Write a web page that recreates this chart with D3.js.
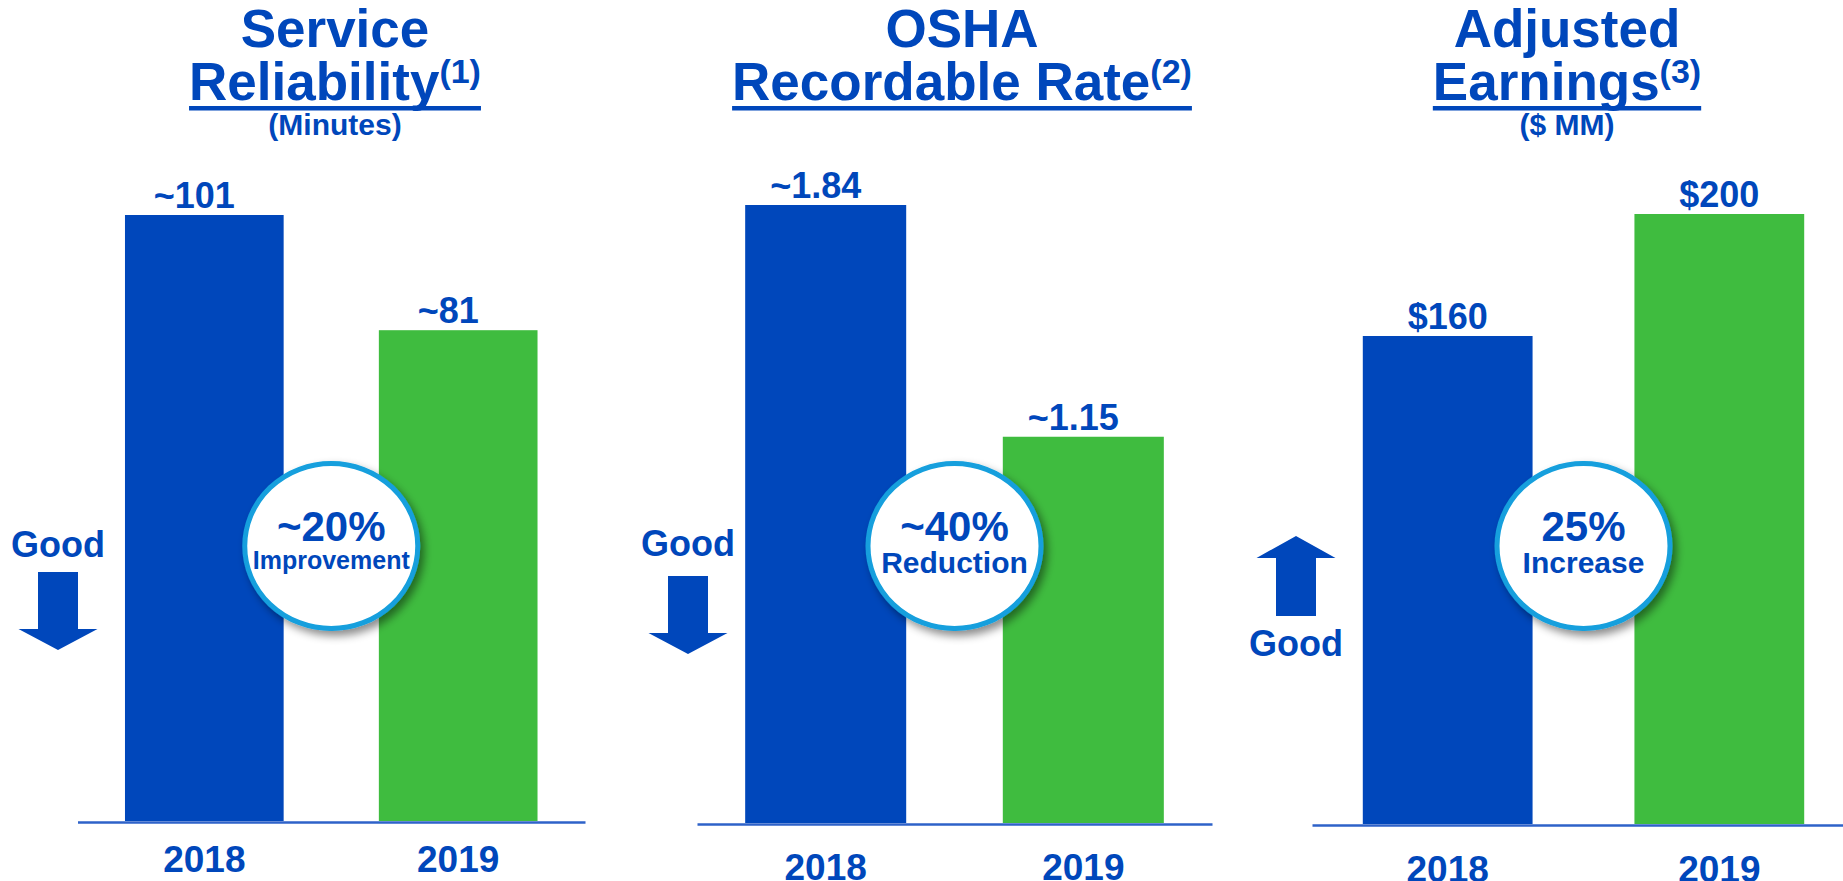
<!DOCTYPE html>
<html>
<head>
<meta charset="utf-8">
<title>2018 vs 2019 scorecard</title>
<script src="https://cdn.jsdelivr.net/npm/d3@7"></script>
<style>
  body { margin: 0; background: #fff; }
  svg text { font-family: "Liberation Sans", Arial, sans-serif; font-weight: bold; fill: #0047bb; }
</style>
</head>
<body>
<svg id="chart"></svg>
<script>
    // chart data
    const years = ["2018", "2019"];
    const titleTop = ["Service", "OSHA", "Adjusted"];
    const titleBottom = ["Reliability", "Recordable Rate", "Earnings"];
    const footnotes = ["(1)", "(2)", "(3)"];
    const units = ["(Minutes)", "", "($ MM)"];
    const reliabilityMinutes = [101, 81.8];
    const oshaRate = [1.84, 1.15];
    const adjustedEarnings = [160, 200];
    const valueLabels = [["~101", "~81"], ["~1.84", "~1.15"], ["$160", "$200"]];
    const changePct = ["~20%", "~40%", "25%"];
    const changeWord = ["Improvement", "Reduction", "Increase"];
    const goodDirection = ["down", "down", "up"];
    const seriesValues = [reliabilityMinutes, oshaRate, adjustedEarnings];

    const WIDTH = 1843, HEIGHT = 881;
    const blue = "#0047bb", green = "#3fbc3f", ring = "#139fdd", axisBlue = "#2e62c9";
    const barColors = [blue, green];

    // layout of each panel
    const layout = [
        { x0: 77.5, x1: 585, base: 821, top: 215, titleX: 335, yearY: 872, goodX: 58, goodY: 557, arrowY: 572 },
        { x0: 697, x1: 1212, base: 823, top: 205, titleX: 962, yearY: 880, goodX: 688, goodY: 556, arrowY: 576 },
        { x0: 1312, x1: 1855, base: 824, top: 214, titleX: 1567, yearY: 882, goodX: 1296, goodY: 656, arrowY: 536 }
    ];

    let svg = d3.select("#chart").attr("width", WIDTH).attr("height", HEIGHT);

    let defs = svg.append("defs");
    defs.append("filter").attr("id", "shadow")
        .attr("x", "-30%").attr("y", "-30%").attr("width", "160%").attr("height", "160%")
        .append("feDropShadow")
        .attr("dx", 4).attr("dy", 5).attr("stdDeviation", 4)
        .attr("flood-color", "#000").attr("flood-opacity", 0.45);

    function drawPanel(i) {
        let L = layout[i], values = seriesValues[i];
        let g = svg.append("g").attr("class", "panel");

        let xScale = d3.scaleBand().domain(years).range([L.x0, L.x1])
            .paddingInner(0.375).paddingOuter(0.187);
        let yScale = d3.scaleLinear().domain([0, d3.max(values)]).range([L.base, L.top]);

        let data = years.map((y, k) => ({ year: y, value: values[k], label: valueLabels[i][k], color: barColors[k] }));

        // bars
        g.selectAll(".bar").data(data).enter().append("rect")
            .attr("class", "bar")
            .attr("x", d => xScale(d.year))
            .attr("width", xScale.bandwidth())
            .attr("y", d => yScale(d.value))
            .attr("height", d => L.base - yScale(d.value))
            .attr("fill", d => d.color);

        // value labels
        g.selectAll(".val").data(data).enter().append("text")
            .attr("class", "val")
            .attr("x", d => xScale(d.year) + xScale.bandwidth() / 2)
            .attr("dx", d => d.label[0] === "~" ? -10 : 0)
            .attr("y", d => yScale(d.value) - 7)
            .attr("text-anchor", "middle")
            .style("font-size", "36px")
            .text(d => d.label);

        // baseline + year labels
        let axis = g.append("g")
            .attr("transform", "translate(0," + (L.base + 1) + ")")
            .call(d3.axisBottom(xScale).tickSize(0).tickSizeOuter(0));
        axis.select(".domain").attr("stroke", axisBlue).attr("stroke-width", 2.5);
        axis.selectAll(".tick text")
            .attr("y", L.yearY - L.base - 1).attr("dy", 0)
            .attr("fill", blue)
            .style("font-size", "37px")
            .style("font-family", "'Liberation Sans', Arial, sans-serif")
            .style("font-weight", "bold");

        // title
        g.append("text").attr("x", L.titleX).attr("y", 47)
            .attr("text-anchor", "middle").style("font-size", "53px")
            .text(titleTop[i]);
        let t2 = g.append("text").attr("x", L.titleX).attr("y", 100)
            .attr("text-anchor", "middle").style("font-size", "53px");
        t2.append("tspan").text(titleBottom[i]);
        t2.append("tspan").attr("dy", -17).style("font-size", "34px").text(footnotes[i]);
        let bb = t2.node().getBBox();
        g.append("rect").attr("x", bb.x).attr("y", 106)
            .attr("width", bb.width).attr("height", 4.5).attr("fill", blue);
        if (units[i]) {
            g.append("text").attr("x", L.titleX).attr("y", 135)
                .attr("text-anchor", "middle").style("font-size", "30px")
                .text(units[i]);
        }

        // change badge between the bars
        let cx = (xScale(years[0]) + xScale(years[1]) + xScale.bandwidth()) / 2;
        let cy = 546;
        g.append("ellipse").attr("cx", cx).attr("cy", cy).attr("rx", 86.5).attr("ry", 82.5)
            .attr("fill", "#fff").attr("stroke", ring).attr("stroke-width", 5)
            .attr("filter", "url(#shadow)");
        g.append("text").attr("x", cx).attr("y", cy - 5)
            .attr("text-anchor", "middle").style("font-size", "42px")
            .text(changePct[i]);
        g.append("text").attr("x", cx).attr("y", cy + (changeWord[i].length > 10 ? 23 : 27))
            .attr("text-anchor", "middle")
            .style("font-size", changeWord[i].length > 10 ? "25px" : "30px")
            .text(changeWord[i]);

        // "Good" direction hint
        g.append("text").attr("x", L.goodX).attr("y", L.goodY)
            .attr("text-anchor", "middle").style("font-size", "36px")
            .text("Good");
        let sw = 20, hw = 39.5, a = L.arrowY, pts;
        if (goodDirection[i] === "down") {
            pts = [[L.goodX - sw, a], [L.goodX + sw, a], [L.goodX + sw, a + 57], [L.goodX + hw, a + 57],
                   [L.goodX, a + 78], [L.goodX - hw, a + 57], [L.goodX - sw, a + 57]];
        } else {
            pts = [[L.goodX, a], [L.goodX + hw, a + 22], [L.goodX + sw, a + 22], [L.goodX + sw, a + 80],
                   [L.goodX - sw, a + 80], [L.goodX - sw, a + 22], [L.goodX - hw, a + 22]];
        }
        g.append("path").attr("d", d3.line()(pts) + "Z").attr("fill", blue);
    }

    for (let i = 0; i < 3; i++) drawPanel(i);
</script>
</body>
</html>
